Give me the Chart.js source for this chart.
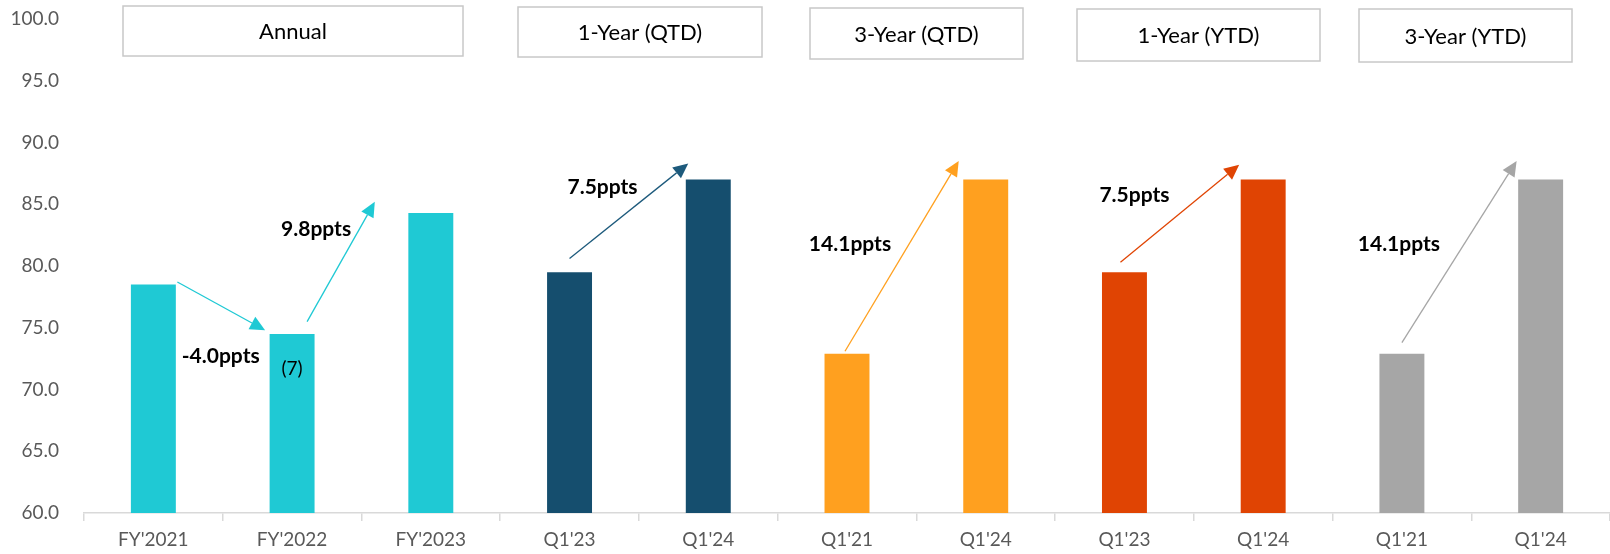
<!DOCTYPE html>
<html>
<head>
<meta charset="utf-8">
<script src="https://cdn.jsdelivr.net/npm/chart.js@4.4.1/dist/chart.umd.min.js"></script>
<style>
  html, body { margin: 0; padding: 0; background: #ffffff; }
  #wrap { width: 1610px; height: 554px; position: relative; }
</style>
</head>
<body>
<div id="wrap"><canvas id="c" width="1610" height="554"></canvas></div>
<script>
// ---- data ----
const categories = ["FY'2021", "FY'2022", "FY'2023", "Q1'23", "Q1'24", "Q1'21", "Q1'24", "Q1'23", "Q1'24", "Q1'21", "Q1'24"];
const scores = [78.5, 74.5, 84.3, 79.5, 87.0, 72.9, 87.0, 79.5, 87.0, 72.9, 87.0];
const yTicks = [60, 65, 70, 75, 80, 85, 90, 95, 100];
const groupNames = ["Annual", "1-Year (QTD)", "3-Year (QTD)", "1-Year (YTD)", "3-Year (YTD)"];
const changePairs = [[0, 1], [1, 2], [3, 4], [5, 6], [7, 8], [9, 10]];
const changeLabels = ["-4.0ppts", "9.8ppts", "7.5ppts", "14.1ppts", "7.5ppts", "14.1ppts"];
const noteLabel = "(7)";

// ---- styling ----
const CYAN = '#1fc9d4', NAVY = '#154e6e', ORANGE = '#ffa01f', RED = '#e04403', GREY = '#a6a6a6';
const barColors = [CYAN, CYAN, CYAN, NAVY, NAVY, ORANGE, ORANGE, RED, RED, GREY, GREY];
const arrowColors = [CYAN, CYAN, '#1d5a7c', ORANGE, RED, GREY];

// arrow ends: pixel offset from the bar centre and the value height on the y scale
const arrowGeom = [
  { dx0: 24, v0: 78.7, dx1: -27, v1: 74.8 },
  { dx0: 15, v0: 75.5, dx1: -56, v1: 85.2 },
  { dx0: 0,  v0: 80.6, dx1: -20, v1: 88.3 },
  { dx0: -2, v0: 73.1, dx1: -27, v1: 88.5 },
  { dx0: -4, v0: 80.3, dx1: -24, v1: 88.2 },
  { dx0: 0,  v0: 73.8, dx1: -24, v1: 88.5 }
];
// change label anchor: category index, pixel offset, value height
const labelGeom = [
  { i: 0.5, dx: -2, v: 72.7 },
  { i: 1, dx: 24, v: 83.0 },
  { i: 3, dx: 33, v: 86.4 },
  { i: 5, dx: 3,  v: 81.8 },
  { i: 7, dx: 10, v: 85.7 },
  { i: 9, dx: -3, v: 81.8 }
];
const noteGeom = { i: 1, dx: 0, v: 71.7 };
// header boxes (px)
const headerBoxes = [
  { x0: 123, x1: 463, y0: 6, y1: 56 },
  { x0: 518, x1: 762, y0: 7, y1: 57 },
  { x0: 810, x1: 1023, y0: 8, y1: 59 },
  { x0: 1077, x1: 1320, y0: 9, y1: 61 },
  { x0: 1359, x1: 1572, y0: 9, y1: 62 }
];

Chart.defaults.font.family = 'Lato, "Noto Sans", sans-serif';

function catPixel(x, i) {
  const lo = Math.floor(i), hi = Math.ceil(i);
  return (x.getPixelForValue(lo) + x.getPixelForValue(hi)) / 2;
}

function drawArrow(ctx, x0, y0, x1, y1, color) {
  const ang = Math.atan2(y1 - y0, x1 - x0);
  const headLen = 15, headHalf = 7;
  const bx = x1 - headLen * Math.cos(ang), by = y1 - headLen * Math.sin(ang);
  ctx.save();
  ctx.strokeStyle = color;
  ctx.fillStyle = color;
  ctx.lineWidth = 1.3;
  ctx.beginPath();
  ctx.moveTo(x0, y0);
  ctx.lineTo(bx, by);
  ctx.stroke();
  ctx.beginPath();
  ctx.moveTo(x1, y1);
  ctx.lineTo(bx + headHalf * Math.sin(ang), by - headHalf * Math.cos(ang));
  ctx.lineTo(bx - headHalf * Math.sin(ang), by + headHalf * Math.cos(ang));
  ctx.closePath();
  ctx.fill();
  ctx.restore();
}

const annotate = {
  id: 'annotate',
  afterDatasetsDraw(chart) {
    const ctx = chart.ctx;
    const x = chart.scales.x, y = chart.scales.y;

    // group headers
    headerBoxes.forEach((b, k) => {
      ctx.save();
      ctx.fillStyle = '#ffffff';
      ctx.fillRect(b.x0, b.y0, b.x1 - b.x0, b.y1 - b.y0);
      ctx.strokeStyle = '#c8c8c8';
      ctx.lineWidth = 1.5;
      ctx.strokeRect(b.x0, b.y0, b.x1 - b.x0, b.y1 - b.y0);
      ctx.fillStyle = '#000000';
      ctx.font = '22px Lato, "Noto Sans", sans-serif';
      ctx.textAlign = 'center';
      ctx.textBaseline = 'middle';
      ctx.fillText(groupNames[k], (b.x0 + b.x1) / 2, (b.y0 + b.y1) / 2 + 1);
      ctx.restore();
    });

    // change arrows
    changePairs.forEach((p, k) => {
      const g = arrowGeom[k];
      drawArrow(ctx,
        x.getPixelForValue(p[0]) + g.dx0, y.getPixelForValue(g.v0),
        x.getPixelForValue(p[1]) + g.dx1, y.getPixelForValue(g.v1),
        arrowColors[k]);
    });

    // change labels
    ctx.save();
    ctx.fillStyle = '#000000';
    ctx.textAlign = 'center';
    ctx.textBaseline = 'middle';
    ctx.font = 'bold 21px Lato, "Noto Sans", sans-serif';
    changeLabels.forEach((t, k) => {
      const g = labelGeom[k];
      ctx.fillText(t, catPixel(x, g.i) + g.dx, y.getPixelForValue(g.v));
    });
    ctx.font = '19px Lato, "Noto Sans", sans-serif';
    ctx.fillText(noteLabel, catPixel(x, noteGeom.i) + noteGeom.dx, y.getPixelForValue(noteGeom.v));
    ctx.restore();
  }
};

new Chart(document.getElementById('c'), {
  type: 'bar',
  data: {
    labels: categories,
    datasets: [{
      data: scores,
      backgroundColor: barColors,
      borderWidth: 0,
      barPercentage: 0.324,
      categoryPercentage: 1.0
    }]
  },
  options: {
    responsive: false,
    animation: false,
    devicePixelRatio: 1,
    layout: { padding: { top: 19, left: 0, right: 0, bottom: 0 } },
    plugins: { legend: { display: false }, tooltip: { enabled: false } },
    scales: {
      x: {
        grid: { display: true, drawOnChartArea: false, drawTicks: true, tickLength: 8, color: '#d9d9d9', lineWidth: 1.5, offset: true },
        border: { display: true, color: '#d9d9d9', width: 1.5 },
        ticks: { color: '#595959', font: { size: 19 }, padding: 7, maxRotation: 0, autoSkip: false },
        afterFit(scale) { scale.height = 41; }
      },
      y: {
        min: 60,
        max: 100,
        grid: { display: false, drawTicks: true, tickLength: 25 },
        border: { display: false },
        afterBuildTicks(scale) { scale.ticks = yTicks.map(v => ({ value: v })); },
        ticks: {
          color: '#595959',
          font: { size: 19 },
          padding: 0,
          callback: (v) => Number(v).toFixed(1)
        },
        afterFit(scale) {
          scale.width = 84;
          scale.paddingTop = 0;
          scale.paddingBottom = 0;
        }
      }
    }
  },
  plugins: [annotate]
});
</script>
</body>
</html>
